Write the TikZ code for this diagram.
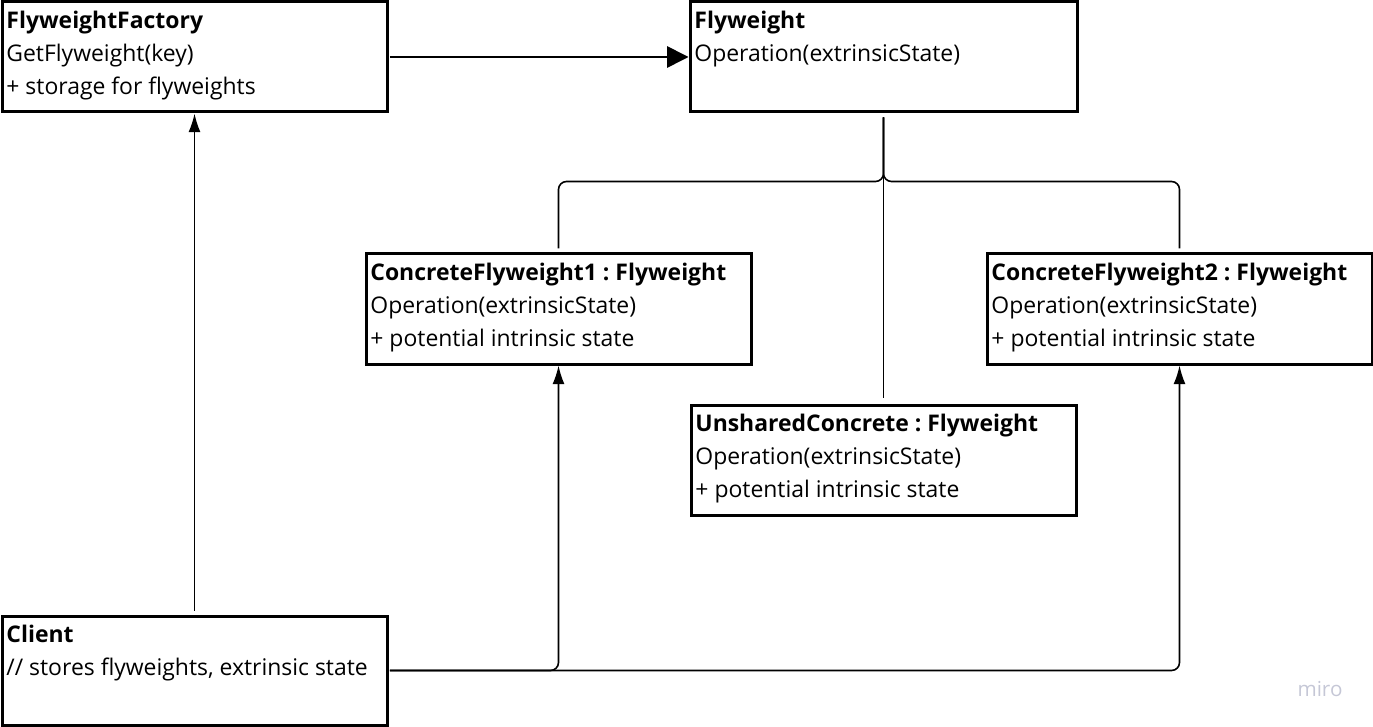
\documentclass[tikz,border=0pt]{standalone}
\usepackage{fontspec}
\setmainfont{Open Sans}
\usetikzlibrary{arrows.meta,positioning}
\frenchspacing

\definecolor{mirogrey}{HTML}{C5C7D6}

\tikzset{
  classbox/.style={draw, line width=2.25pt, minimum width=288.75pt, minimum height=82.5pt, inner sep=0pt},
  classtext/.style={anchor=north west, inner sep=0pt, align=left, font=\fontsize{17.2}{24.6}\selectfont},
  assoc/.style={line width=1.2pt},
}

\begin{document}
\begin{tikzpicture}[x=0.75pt,y=0.75pt,yscale=-1,xscale=1]
\useasboundingbox (0,0) rectangle (1373,727);

%Class boxes
\node[classbox] (factory) at (194.5,57) {};
\node[classbox, minimum width=290.25pt] (flyweight) at (883.5,57) {};
\node[classbox] (concrete1) at (558.5,309) {};
\node[classbox] (concrete2) at (1179.5,309) {};
\node[classbox] (unshared) at (883.5,460) {};
\node[classbox, minimum height=81.75pt] (client) at (194.5,670.5) {};

%Class texts
\node[classtext] (factorytxt) at ([xshift=4.25pt,yshift=7.75pt]factory.north west) {\textbf{FlyweightFactory}\\GetFlyweight(key)\\+ storage for flyweights};
\node[classtext] (flyweighttxt) at ([xshift=4.25pt,yshift=7.75pt]flyweight.north west) {\textbf{Flyweight}\\Operation(extrinsicState)};
\node[classtext] (concrete1txt) at ([xshift=4.25pt,yshift=7.75pt]concrete1.north west) {\textbf{ConcreteFlyweight1 : Flyweight}\\Operation(extrinsicState)\\+ potential intrinsic state};
\node[classtext] (concrete2txt) at ([xshift=4.25pt,yshift=7.75pt]concrete2.north west) {\textbf{ConcreteFlyweight2 : Flyweight}\\Operation(extrinsicState)\\+ potential intrinsic state};
\node[classtext] (unsharedtxt) at ([xshift=4.25pt,yshift=7.75pt]unshared.north west) {\textbf{UnsharedConcrete : Flyweight}\\Operation(extrinsicState)\\+ potential intrinsic state};
\node[classtext] (clienttxt) at ([xshift=4.25pt,yshift=7.75pt]client.north west) {\textbf{Client}\\// stores flyweights, extrinsic state};

%Associations
\draw[assoc, -{Triangle[length=16pt,width=16pt]}, shorten <=1pt] (factory.east) -- (flyweight.west);
\draw[assoc, -{Latex[length=14pt,width=9pt]}, shorten <=3pt] (client.north) -- (factory.south);
\draw[assoc, rounded corners=6pt, -{Latex[length=14pt,width=9pt]}, shorten <=1pt] (client.east) -| (concrete1.south);
\draw[assoc, rounded corners=6pt, -{Latex[length=14pt,width=9pt]}, shorten <=1pt] (client.east) -| (concrete2.south);

%Generalization tree
\coordinate (fork) at ([yshift=51pt]flyweight.south);
\draw[assoc, rounded corners=6pt, shorten <=3pt, shorten >=3pt] (flyweight.south) -- (fork) -| (concrete1.north);
\draw[assoc, rounded corners=6pt, shorten <=3pt, shorten >=3pt] (flyweight.south) -- (fork) -| (concrete2.north);
\draw[assoc, shorten <=3pt, shorten >=4pt] (flyweight.south) -- (unshared.north);

%Watermark
\node[font=\fontsize{15.5}{15.5}\selectfont, text=mirogrey] (watermark) at (1320,689) {miro};

\end{tikzpicture}
\end{document}
